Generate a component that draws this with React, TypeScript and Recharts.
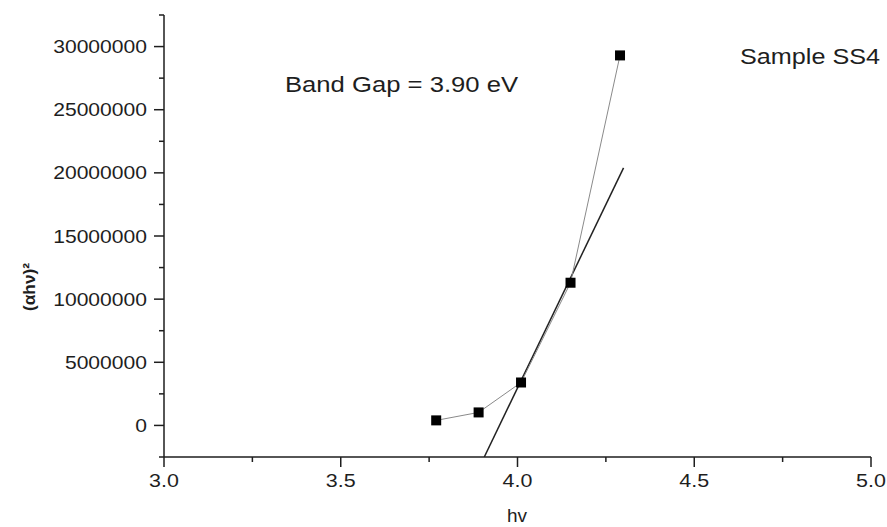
import { ComposedChart, Line, XAxis, YAxis, Customized } from 'recharts';

// measured points, (αhν)^2 against photon energy
const hv = [3.77, 3.89, 4.01, 4.15, 4.29];
const ahv2 = [400000, 1030000, 3400000, 11300000, 29300000];

// extrapolated linear fit (band gap tangent)
const fitHv = [3.906, 4.3];
const fitAhv2 = [-2500000, 20400000];

const xTicks = [3, 3.25, 3.5, 3.75, 4, 4.25, 4.5, 4.75, 5];
const yTicks = [
  -2500000, 0, 2500000, 5000000, 7500000, 10000000, 12500000, 15000000,
  17500000, 20000000, 22500000, 25000000, 27500000, 30000000, 32500000,
];

const points = hv.map((x, i) => ({ x, y: ahv2[i] }));
const fit = fitHv.map((x, i) => ({ x, y: fitAhv2[i] }));

const FONT = '"Liberation Sans", Arial, sans-serif';
const INK = '#1e1e1e';

const XTick = ({ x, y, payload }: any) => {
  const v = payload.value;
  const major = Math.abs(v * 2 - Math.round(v * 2)) < 1e-6;
  return (
    <g>
      <line x1={x} y1={y} x2={x} y2={y + (major ? 10 : 5)} stroke={INK} strokeWidth={1.5} />
      {major && (
        <text
          transform={`translate(${x},${y + 30}) scale(1.16,1)`}
          textAnchor="middle"
          fontFamily={FONT}
          fontSize={18.5}
          fill={INK}
        >
          {v.toFixed(1)}
        </text>
      )}
    </g>
  );
};

const YTick = ({ x, y, payload }: any) => {
  const v = payload.value;
  const major = v % 5000000 === 0;
  return (
    <g>
      <line x1={x} y1={y} x2={x - (major ? 10 : 5)} y2={y} stroke={INK} strokeWidth={1.5} />
      {major && (
        <text
          transform={`translate(${x - 17},${y + 6.5}) scale(1.14,1)`}
          textAnchor="end"
          fontFamily={FONT}
          fontSize={18.5}
          fill={INK}
        >
          {v}
        </text>
      )}
    </g>
  );
};

const Square = ({ cx, cy }: any) => {
  if (cx == null || cy == null) return null;
  return <rect x={cx - 5} y={cy - 5} width={10} height={10} fill="#000" />;
};

const Notes = () => (
  <g fontFamily={FONT} fill={INK}>
    <text x={285} y={92} fontSize={21.5} textLength={233} lengthAdjust="spacingAndGlyphs">
      Band Gap = 3.90 eV
    </text>
    <text x={740} y={64} fontSize={21.5} textLength={140} lengthAdjust="spacingAndGlyphs">
      Sample SS4
    </text>
    <text x={517} y={522} fontSize={19} textAnchor="middle">
      hv
    </text>
    <text
      transform="translate(35,287) rotate(-90)"
      fontSize={16}
      fontWeight="bold"
      textAnchor="middle"
      textLength={48}
      lengthAdjust="spacingAndGlyphs"
    >
      (αhν)²
    </text>
  </g>
);

export default function App() {
  return (
    <div style={{ position: 'absolute', left: 0, top: 0, background: '#fff' }}>
      <ComposedChart
        width={887}
        height={527}
        margin={{ top: 15, right: 16, bottom: 30, left: 4 }}
      >
        <XAxis
          dataKey="x"
          type="number"
          domain={[3, 5]}
          ticks={xTicks}
          allowDataOverflow
          height={40}
          tickSize={0}
          tickMargin={0}
          tickLine={false}
          tick={<XTick />}
          axisLine={{ stroke: INK, strokeWidth: 1.5 }}
          interval={0}
        />
        <YAxis
          type="number"
          domain={[-2500000, 32500000]}
          ticks={yTicks}
          allowDataOverflow
          width={160}
          tickSize={0}
          tickMargin={0}
          tickLine={false}
          tick={<YTick />}
          axisLine={{ stroke: INK, strokeWidth: 1.5 }}
          interval={0}
        />
        <Line
          data={fit}
          dataKey="y"
          type="linear"
          stroke="#222"
          strokeWidth={1.5}
          dot={false}
          activeDot={false}
          isAnimationActive={false}
        />
        <Line
          data={points}
          dataKey="y"
          type="linear"
          stroke="#8a8a8a"
          strokeWidth={1}
          dot={<Square />}
          activeDot={false}
          isAnimationActive={false}
        />
        <Customized component={Notes} />
      </ComposedChart>
    </div>
  );
}
